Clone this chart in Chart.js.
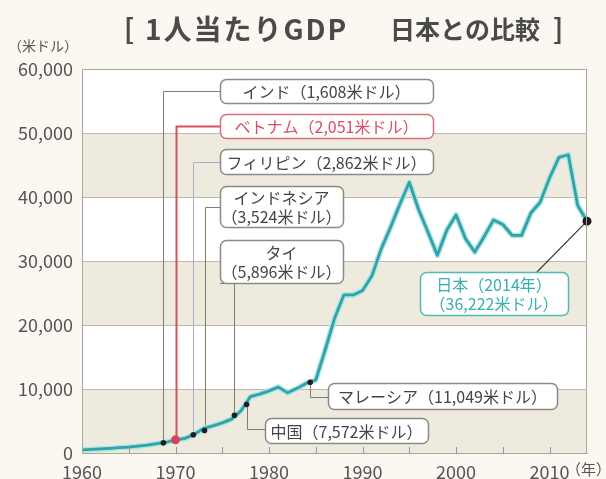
<!DOCTYPE html>
<html>
<head>
<meta charset="utf-8">
<script src="https://cdn.jsdelivr.net/npm/chart.js@4.4.0/dist/chart.umd.min.js"></script>
<style>
  html, body { margin: 0; padding: 0; background: #faf8f1; }
  #wrap { width: 606px; height: 479px; }
</style>
</head>
<body>
<div id="wrap"><canvas id="gdpChart" width="606" height="479"></canvas></div>
<script>
// Japan GDP per capita (US$)
var years = [1960, 1961, 1962, 1963, 1964, 1965, 1966, 1967, 1968, 1969,
             1970, 1971, 1972, 1973, 1974, 1975, 1976, 1977, 1978, 1979,
             1980, 1981, 1982, 1983, 1984, 1985, 1986, 1987, 1988, 1989,
             1990, 1991, 1992, 1993, 1994, 1995, 1996, 1997, 1998, 1999,
             2000, 2001, 2002, 2003, 2004, 2005, 2006, 2007, 2008, 2009,
             2010, 2011, 2012, 2013, 2014];
var japanGdp = [480, 560, 630, 720, 840, 920, 1060, 1230, 1450, 1680,
                2040, 2280, 2900, 3850, 4250, 4700, 5300, 6600, 8800, 9200,
                9700, 10300, 9400, 10100, 10900, 11400, 16100, 21000, 24700, 24700,
                25400, 27700, 31900, 35300, 38900, 42300, 38000, 34500, 30900, 34800,
                37200, 33500, 31400, 33800, 36400, 35700, 34000, 34000, 37500, 39200,
                43000, 46200, 46600, 38700, 36222];

// other countries (2014) and the year Japan reached that level
var countries = ['インド', 'ベトナム', 'フィリピン', 'インドネシア', 'タイ', '中国', 'マレーシア'];
var countryGdp = [1608, 2051, 2862, 3524, 5896, 7572, 11049];
var reachYear = [1968.7, 1970, 1971.9, 1973.1, 1976.3, 1977.6, 1984.4];

var yTicks = [0, 10000, 20000, 30000, 40000, 50000, 60000];
var xTicks = [1960, 1970, 1980, 1990, 2000, 2010];
var minorTicks = [1965, 1975, 1985, 1995, 2005];

var FONT = '"Noto Sans CJK JP", "Noto Sans", sans-serif';

function fmt(v) { return v.toLocaleString('en-US'); }

// label boxes (pixels) - lineY is where the connector meets the box
var boxes = [
  { x: 220, y: 79,  w: 213, h: 24, lineY: 91,  lines: [countries[0] + '（' + fmt(countryGdp[0]) + '米ドル）'] },
  { x: 220, y: 114, w: 213, h: 24, lineY: 126, lines: [countries[1] + '（' + fmt(countryGdp[1]) + '米ドル）'], red: true },
  { x: 220, y: 149, w: 213, h: 25, lineY: 162, lines: [countries[2] + '（' + fmt(countryGdp[2]) + '米ドル）'], light: true },
  { x: 220, y: 186, w: 123, h: 41, lineY: 207, lines: [countries[3], '（' + fmt(countryGdp[3]) + '米ドル）'] },
  { x: 220, y: 240, w: 123, h: 43, lineY: 283, lines: [countries[4], '（' + fmt(countryGdp[4]) + '米ドル）'] },
  { x: 265, y: 418, w: 163, h: 25, lineY: 429, lines: [countries[5] + '（' + fmt(countryGdp[5]) + '米ドル）'] },
  { x: 328, y: 383, w: 229, h: 26, lineY: 397, lines: [countries[6] + '（' + fmt(countryGdp[6]) + '米ドル）'] }
];
var japanBox = { x: 420, y: 272, w: 148, h: 43, lineX: 537,
  lines: ['日本（' + years[years.length - 1] + '年）', '（' + fmt(japanGdp[japanGdp.length - 1]) + '米ドル）'] };

var bands = {
  id: 'bands',
  beforeDraw: function (chart) {
    var ctx = chart.ctx, a = chart.chartArea, y = chart.scales.y;
    ctx.save();
    ctx.fillStyle = '#faf8f1';
    ctx.fillRect(0, 0, chart.width, chart.height);
    for (var i = 0; i < yTicks.length - 1; i++) {
      var top = y.getPixelForValue(yTicks[i + 1]);
      var bottom = y.getPixelForValue(yTicks[i]);
      ctx.fillStyle = i % 2 === 0 ? '#eeebde' : '#ffffff';
      ctx.fillRect(a.left, top, a.right - a.left, bottom - top);
    }
    ctx.restore();
  },
  afterDraw: function (chart) {
    var ctx = chart.ctx, a = chart.chartArea, x = chart.scales.x;
    ctx.save();
    // frame
    ctx.strokeStyle = '#aaa69b';
    ctx.lineWidth = 1;
    ctx.strokeRect(a.left + 0.5, a.top + 0.5, a.right - a.left - 1, a.bottom - a.top);
    // small ticks inside the plot
    ctx.strokeStyle = '#9a978e';
    xTicks.concat(minorTicks).forEach(function (t) {
      if (t === 1960) return;
      var px = Math.round(x.getPixelForValue(t)) + 0.5;
      ctx.beginPath();
      ctx.moveTo(px, a.bottom);
      ctx.lineTo(px, a.bottom - 6);
      ctx.stroke();
    });
    // title
    ctx.fillStyle = '#4a4a4a';
    ctx.textBaseline = 'middle';
    ctx.textAlign = 'left';
    ctx.font = 'bold 27px ' + FONT;
    ctx.fillText('[', 124, 29);
    ctx.letterSpacing = '2px';
    ctx.font = 'bold 28px ' + FONT;
    ctx.fillText('1人当たりGDP', 145, 29);
    ctx.letterSpacing = '0px';
    ctx.font = 'bold 25px ' + FONT;
    ctx.fillText('日本との比較', 390, 29);
    ctx.font = 'bold 27px ' + FONT;
    ctx.fillText(']', 553, 29);
    // unit
    ctx.font = '14px ' + FONT;
    ctx.fillStyle = '#555';
    ctx.fillText('（米ドル）', 8, 46);
    // year unit after last x label
    ctx.font = '15px ' + FONT;
    ctx.fillText('（年）', 566, 469);
    ctx.restore();
  }
};

function drawBox(ctx, b, stroke, color) {
  ctx.beginPath();
  ctx.roundRect(b.x + 0.5, b.y + 0.5, b.w, b.h, 6);
  ctx.fillStyle = '#ffffff';
  ctx.fill();
  ctx.lineWidth = 1.5;
  ctx.strokeStyle = stroke;
  ctx.stroke();
  ctx.fillStyle = color;
  ctx.font = '16px ' + FONT;
  ctx.textAlign = 'center';
  ctx.textBaseline = 'middle';
  var lh = 19;
  var cy = b.y + b.h / 2 - (b.lines.length - 1) * lh / 2 + 1;
  b.lines.forEach(function (t, k) {
    ctx.fillText(t, b.x + b.w / 2, cy + k * lh);
  });
}

var callouts = {
  id: 'callouts',
  beforeDatasetsDraw: function (chart) {
    var ctx = chart.ctx, x = chart.scales.x, y = chart.scales.y;
    ctx.save();
    boxes.forEach(function (b, i) {
      var px = Math.round(x.getPixelForValue(reachYear[i])) + 0.5;
      var py = y.getPixelForValue(countryGdp[i]);
      ctx.beginPath();
      ctx.moveTo(px, py);
      ctx.lineTo(px, b.lineY + 0.5);
      ctx.lineTo(b.x, b.lineY + 0.5);
      ctx.lineWidth = b.red ? 2 : 1;
      ctx.strokeStyle = b.red ? '#d4505f' : (b.light ? '#aeaac4' : '#7e7c78');
      ctx.stroke();
    });
    var jx = x.getPixelForValue(years[years.length - 1]);
    var jy = y.getPixelForValue(japanGdp[japanGdp.length - 1]);
    ctx.beginPath();
    ctx.moveTo(jx, jy);
    ctx.lineTo(japanBox.lineX, japanBox.y);
    ctx.lineWidth = 1.2;
    ctx.strokeStyle = '#3c3c3c';
    ctx.stroke();
    ctx.restore();
  },
  afterDatasetsDraw: function (chart) {
    var ctx = chart.ctx;
    ctx.save();
    boxes.forEach(function (b) {
      if (b.red) drawBox(ctx, b, '#d8707c', '#d8505e');
      else drawBox(ctx, b, '#8c8a86', '#444444');
    });
    drawBox(ctx, japanBox, '#52b8b8', '#3aaeb0');
    ctx.restore();
  }
};

var japanLine = years.map(function (yr, i) { return { x: yr, y: japanGdp[i] }; });
var markerPts = reachYear.map(function (yr, i) { return { x: yr, y: countryGdp[i] }; });

var ctx = document.getElementById('gdpChart');
var gdpChart = new Chart(ctx, {
  type: 'line',
  data: {
    datasets: [
      {
        // endpoint for Japan 2014
        data: [japanLine[japanLine.length - 1]],
        showLine: false,
        pointRadius: 4.5,
        pointBackgroundColor: '#1e1e1e',
        pointBorderWidth: 0,
        clip: false
      },
      {
        data: markerPts,
        showLine: false,
        pointRadius: countries.map(function (c, i) { return i === 1 ? 4.5 : 2.8; }),
        pointBackgroundColor: countries.map(function (c, i) { return i === 1 ? '#d4455a' : '#1e1e1e'; }),
        pointBorderWidth: 0
      },
      {
        data: japanLine,
        borderColor: '#33a2a4',
        borderWidth: 2.8,
        pointRadius: 0,
        tension: 0,
        borderJoinStyle: 'round'
      },
      {
        data: japanLine,
        borderColor: '#a8e4e8',
        borderWidth: 5.5,
        pointRadius: 0,
        tension: 0,
        borderJoinStyle: 'round'
      }
    ]
  },
  options: {
    responsive: false,
    animation: false,
    devicePixelRatio: 1,
    layout: { padding: { top: 69, right: 19, left: 0, bottom: 0 } },
    plugins: {
      legend: { display: false },
      tooltip: { enabled: false }
    },
    scales: {
      x: {
        type: 'linear',
        min: 1960,
        max: 2014,
        afterBuildTicks: function (s) { s.ticks = xTicks.map(function (v) { return { value: v }; }); },
        afterFit: function (s) { s.height = 26; },
        grid: { display: false },
        border: { display: true, color: '#aaa69b', width: 1 },
        ticks: {
          maxRotation: 0,
          padding: 2,
          color: '#555',
          font: { family: FONT, size: 18, lineHeight: 1 },
          callback: function (v) { return String(v); }
        }
      },
      y: {
        min: 0,
        max: 60000,
        afterBuildTicks: function (s) { s.ticks = yTicks.map(function (v) { return { value: v }; }); },
        afterFit: function (s) { s.width = 82; },
        grid: { color: '#bdb9ae', lineWidth: 1, drawTicks: false },
        border: { display: true, color: '#aaa69b', width: 1 },
        ticks: {
          padding: 9,
          color: '#555',
          font: { family: FONT, size: 18 },
          callback: function (v) { return fmt(v); }
        }
      }
    }
  },
  plugins: [bands, callouts]
});
</script>
</body>
</html>
